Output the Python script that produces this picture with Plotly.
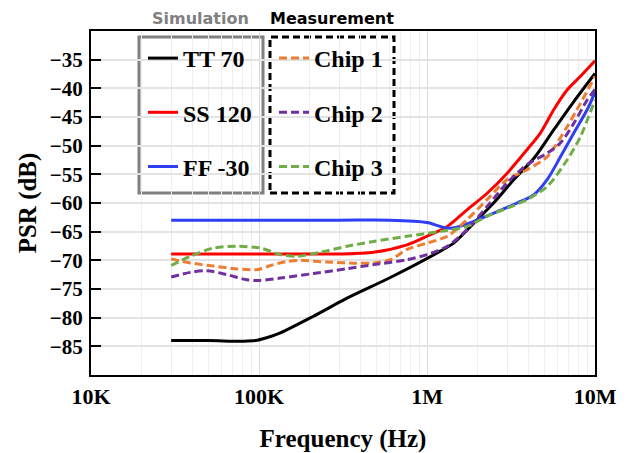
import plotly.graph_objects as go

# ---------------- data ----------------
tt70_f = [30e3, 50e3, 80e3, 95e3, 111e3, 134e3, 211e3, 334e3, 605e3,
          1.2e6, 1.44e6, 1.9e6, 2.49e6, 3.29e6, 4.33e6, 5.69e6, 7.48e6, 10e6]
tt70_db = [-84.0, -84.0, -84.1, -84.0, -83.5, -82.65, -79.75, -76.6, -73.0,
           -68.4, -67.0, -63.5, -60.0, -55.9, -52.2, -47.2, -42.3, -37.4]

ss120_f = [30e3, 100e3, 200e3, 305e3, 481e3, 760e3, 1.0e6, 1.32e6, 1.73e6, 2.28e6,
           3.0e6, 3.94e6, 4.73e6, 5.69e6, 6.82e6, 8.2e6, 10e6]
ss120_db = [-68.9, -68.9, -68.9, -68.9, -68.6, -67.3, -65.8, -64.1, -61.2, -58.3,
            -54.8, -50.7, -47.8, -43.7, -40.3, -37.9, -35.2]

ff30_f = [30e3, 100e3, 300e3, 600e3, 1.0e6, 1.2e6, 1.38e6, 1.6e6, 1.9e6, 2.62e6,
          3.44e6, 4.33e6, 5.2e6, 6.24e6, 7.48e6, 8.99e6, 10e6]
ff30_db = [-63.0, -63.0, -63.0, -63.0, -63.4, -64.1, -64.4, -64.0, -63.2, -61.5,
           -60.0, -58.55, -55.9, -51.9, -47.8, -43.7, -40.7]

chip1_f = [30e3, 39e3, 53.6e3, 73.8e3, 99e3, 117e3, 147e3, 176e3, 254e3, 384e3,
           481e3, 605e3, 760e3, 1.0e6, 1.32e6, 1.73e6, 2.28e6, 3.0e6, 3.94e6,
           5.2e6, 6.82e6, 8.2e6, 10e6]
chip1_db = [-69.75, -70.45, -71.0, -71.5, -71.6, -70.9, -70.2, -70.0, -70.3, -70.5,
            -70.45, -69.9, -68.1, -67.0, -65.8, -62.9, -59.4, -55.9, -54.2,
            -51.9, -46.7, -42.6, -37.9]

chip2_f = [30e3, 39e3, 49e3, 64.4e3, 84.7e3, 101.6e3, 134e3, 211e3, 334e3, 481e3,
           760e3, 1.0e6, 1.32e6, 1.73e6, 2.28e6, 3.0e6, 3.94e6, 5.2e6, 6.24e6,
           7.48e6, 9.0e6, 10e6]
chip2_db = [-72.9, -72.1, -71.8, -72.5, -73.4, -73.5, -73.1, -72.3, -71.45, -70.75,
            -69.9, -69.0, -67.55, -64.65, -60.6, -56.5, -53.3, -51.3, -49.5,
            -46.1, -42.0, -40.2]

chip3_f = [30e3, 39e3, 53.6e3, 73.8e3, 101.6e3, 134e3, 168e3, 231e3, 334e3, 481e3,
           760e3, 1.2e6, 1.73e6, 2.28e6, 3.0e6, 3.94e6, 5.2e6, 6.82e6, 8.2e6, 10e6]
chip3_db = [-70.9, -69.3, -67.85, -67.55, -67.85, -69.0, -69.3, -68.6, -67.55, -66.7,
            -65.8, -64.95, -64.1, -62.3, -60.9, -59.4, -57.1, -52.5, -48.4, -42.0]

x_tickvals = [1e4, 1e5, 1e6, 1e7]
x_ticktext = ["10K", "100K", "1M", "10M"]
y_tickvals = [-85, -80, -75, -70, -65, -60, -55, -50, -45, -40, -35]

sim_names = ["TT 70", "SS 120", "FF -30"]
meas_names = ["Chip 1", "Chip 2", "Chip 3"]

# ---------------- figure ----------------
SERIF = "Times New Roman, Liberation Serif, Times, serif"
SANS = "Verdana, DejaVu Sans, sans-serif"
fig = go.Figure()

sim = [(tt70_f, tt70_db, "#000000"), (ss120_f, ss120_db, "#ff0000"), (ff30_f, ff30_db, "#2f3ff5")]
for (fx, fy, c), n in zip(sim, sim_names):
    fig.add_trace(go.Scatter(x=fx, y=fy, name=n, mode="lines",
                             line=dict(color=c, width=3, shape="spline", smoothing=0.8),
                             legend="legend", legendgroup=n))

meas = [(chip1_f, chip1_db, "#ed7d31"), (chip2_f, chip2_db, "#7030a0"), (chip3_f, chip3_db, "#70ad47")]
for (fx, fy, c), n in zip(meas, meas_names):
    fig.add_trace(go.Scatter(x=fx, y=fy, name=n, mode="lines",
                             line=dict(color=c, width=3, dash="8px,4px", shape="spline", smoothing=0.8),
                             legend="legend2", legendgroup=n))

# plot area geometry (px): left 91, right 595, top 31, bottom 375.5
W, H = 632, 453
L, R, T, B = 91, 37, 31, 78
pw = W - L - R
ph = H - T - B

def px2x(p):
    return (p - L) / pw

def py2y(p):
    return (H - B - p) / ph

leg_font = dict(family=SERIF, size=24, color="black", weight="bold")
common_leg = dict(bgcolor="rgba(0,0,0,0)", borderwidth=0, font=leg_font,
                  xanchor="left", yanchor="top", tracegroupgap=20,
                  itemwidth=30, traceorder="grouped")
fig.update_layout(
    legend=dict(x=px2x(143), y=py2y(36), **common_leg),
    legend2=dict(x=px2x(274), y=py2y(36), **common_leg),
)

shapes = [
    dict(type="rect", xref="paper", yref="paper",
         x0=px2x(139), x1=px2x(263), y0=py2y(193), y1=py2y(37),
         line=dict(color="#808080", width=3), fillcolor="white", layer="below"),
    dict(type="rect", xref="paper", yref="paper",
         x0=px2x(270), x1=px2x(394), y0=py2y(193), y1=py2y(37),
         line=dict(color="black", width=3, dash="7px,4px"), fillcolor="white", layer="below"),
]

annotations = [
    dict(text="Simulation", x=px2x(200), y=py2y(19), xref="paper", yref="paper",
         xanchor="center", yanchor="middle",
         showarrow=False, font=dict(family=SANS, size=16, color="#808080", weight="bold")),
    dict(text="Measurement", x=px2x(332), y=py2y(19), xref="paper", yref="paper",
         xanchor="center", yanchor="middle",
         showarrow=False, font=dict(family=SANS, size=16, color="black", weight="bold")),
]

fig.update_layout(
    width=W, height=H,
    margin=dict(l=L, r=R, t=T, b=B, autoexpand=False),
    paper_bgcolor="white", plot_bgcolor="white",
    shapes=shapes, annotations=annotations,
    showlegend=True,
)

fig.update_xaxes(
    type="log", range=[4, 7], automargin=False,
    tickvals=x_tickvals, ticktext=x_ticktext,
    ticks="", showline=True, linecolor="black", linewidth=2, mirror=True,
    showgrid=True, gridcolor="#d9d9d9", gridwidth=1,
    minor=dict(showgrid=True, gridcolor="#eeeeee", gridwidth=1,
               tickvals=[m * 10 ** e for e in range(4, 7) for m in range(2, 10)]),
    tickfont=dict(family=SERIF, size=22, color="black", weight="bold"),
    ticklabelstandoff=1,
    title=dict(text="Frequency (Hz)", font=dict(family=SERIF, size=25, color="black", weight="bold"),
               standoff=21),
    zeroline=False,
)
fig.update_yaxes(
    range=[-90, -30], automargin=False,
    tickvals=y_tickvals,
    ticks="inside", ticklen=10, tickwidth=2, tickcolor="black",
    showline=True, linecolor="black", linewidth=2, mirror=True,
    showgrid=True, gridcolor="#e3e3e3", gridwidth=1.5,
    tickfont=dict(family=SERIF, size=21, color="black", weight="bold"),
    ticklabelstandoff=2,
    title=dict(text="PSR (dB)", font=dict(family=SERIF, size=25, color="black", weight="bold"),
               standoff=6),
    zeroline=False,
)

fig.write_html("out.html", config={"displayModeBar": False},
               post_script="document.body.style.margin='0';document.body.style.overflow='hidden';")
